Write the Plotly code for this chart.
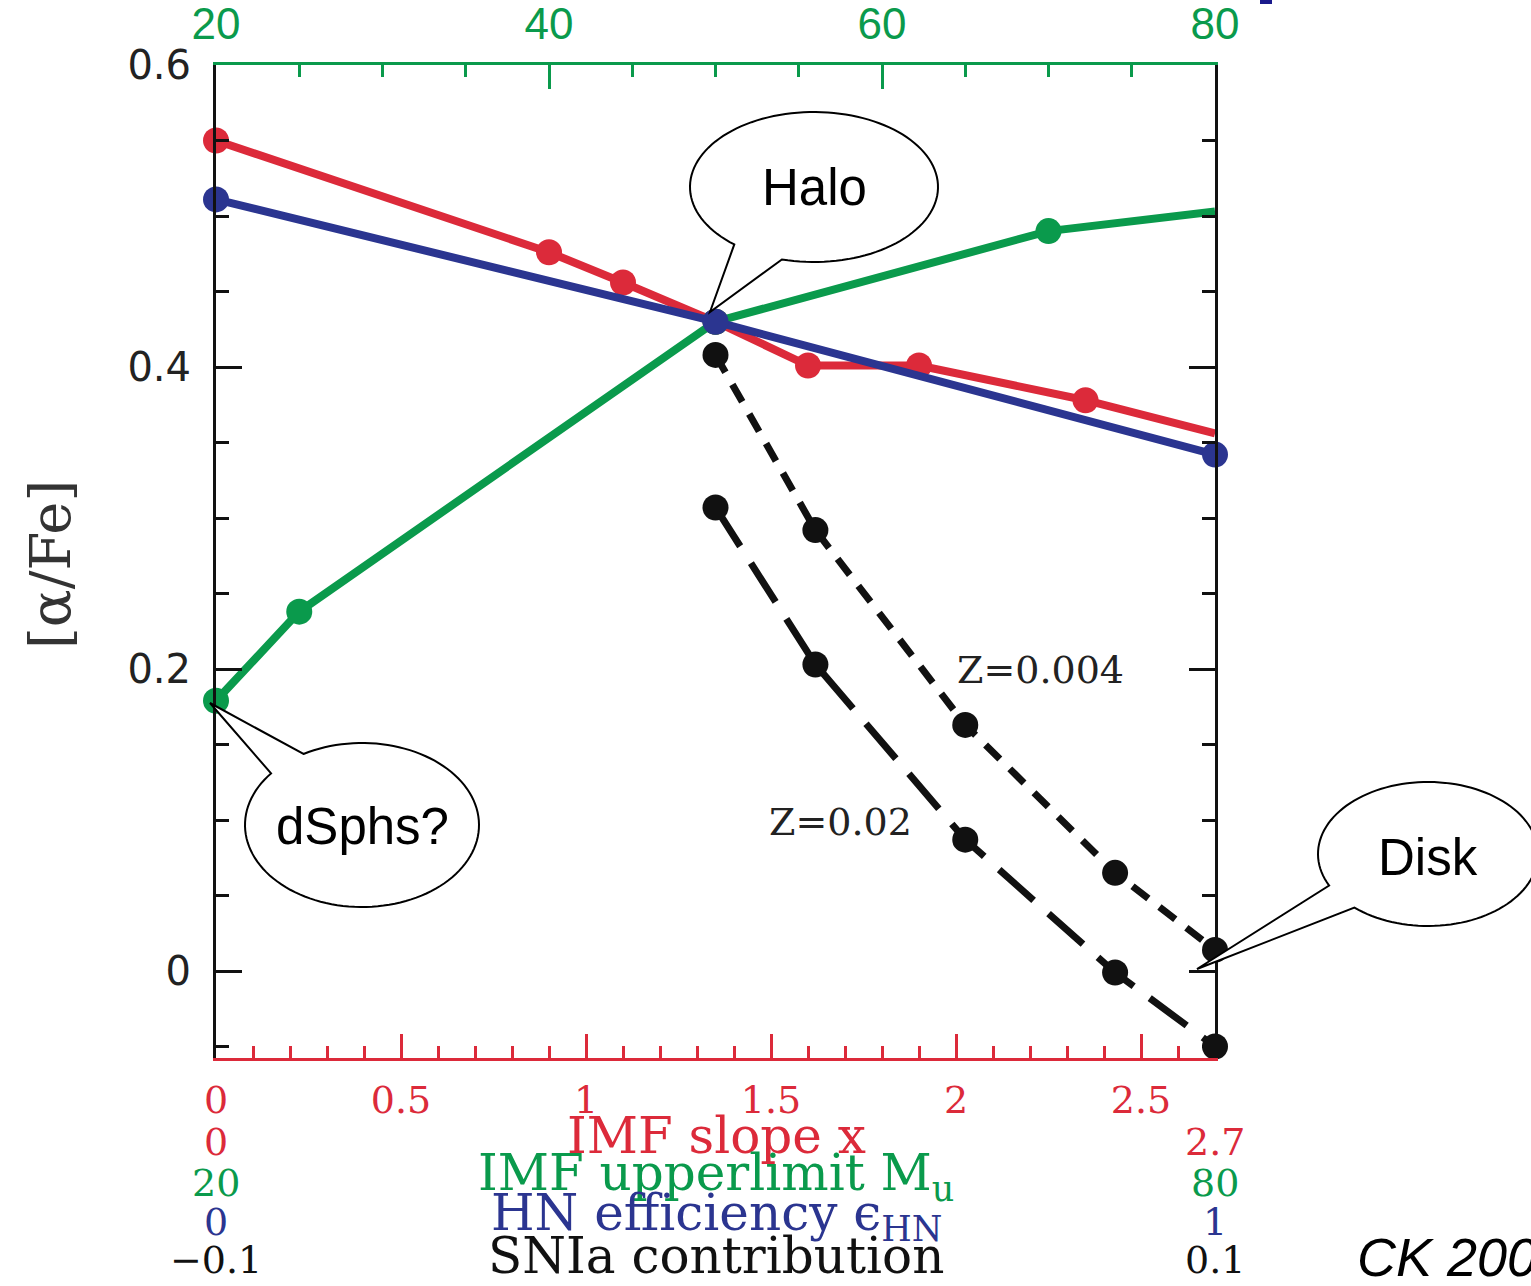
import numpy as np
import plotly.graph_objects as go

# ---- data: [alpha/Fe] response to each parameter ----
# IMF slope x (bottom axis, 0 .. 2.7)
slope_x = [0, 0.9, 1.1, 1.35, 1.6, 1.9, 2.35, 2.7]
slope_afe = [0.550, 0.476, 0.456, 0.430, 0.401, 0.401, 0.378, 0.356]
slope_msize = [26, 26, 26, 26, 26, 26, 26, 0]

# IMF upper mass limit M_u (top axis, 20 .. 80)
mu_x = [20, 25, 50, 70, 80]
mu_afe = [0.179, 0.238, 0.430, 0.490, 0.503]
mu_msize = [26, 26, 26, 26, 0]

# hypernova efficiency eps_HN (0 .. 1)
hn_x = [0, 0.5, 1]
hn_afe = [0.511, 0.430, 0.342]

# SNIa contribution (-0.1 .. 0.1) for two metallicities
snia_x = [0, 0.02, 0.05, 0.08, 0.1]
snia_afe_z004 = [0.408, 0.292, 0.163, 0.065, 0.014]
snia_afe_z02 = [0.307, 0.203, 0.087, -0.001, -0.050]

# axis ranges
slope_range = [0, 2.7]
mu_range = [20, 80]
hn_range = [0, 1]
snia_range = [-0.1, 0.1]
afe_range = [-0.0576, 0.6]

RED = "#dc2a3a"
GREEN = "#0a9a4c"
BLUE = "#2b3590"
BLACK = "#111111"

W, H = 1531, 1286
L, R, T, B = 216, 1215, 65, 1058


def px(x):
    return (x - L) / (R - L)


def py(y):
    return (B - y) / (B - T)


def bubble(cx, cy, rx, ry, gap_lo, gap_hi, tip):
    """Speech-bubble outline (ellipse + tail) in paper coordinates."""
    a = np.radians(np.linspace(gap_hi, gap_lo + 360, 120))
    xs = cx + rx * np.cos(a)
    ys = cy + ry * np.sin(a)
    pts = [(px(x), py(y)) for x, y in zip(xs, ys)]
    pts.append((px(tip[0]), py(tip[1])))
    d = "M " + " L ".join(f"{x:.5f},{y:.5f}" for x, y in pts) + " Z"
    return dict(type="path", path=d, xref="paper", yref="paper",
                fillcolor="white", line=dict(color="black", width=2),
                layer="above")


def marker(size, color):
    return dict(size=size, color=color, opacity=1, line=dict(width=0))


fig = go.Figure()

fig.add_trace(go.Scatter(
    x=snia_x, y=snia_afe_z02, xaxis="x4", yaxis="y", mode="lines+markers",
    line=dict(color=BLACK, width=7, dash="46px,20px"),
    marker=marker(26, BLACK), cliponaxis=False, showlegend=False))
fig.add_trace(go.Scatter(
    x=snia_x, y=snia_afe_z004, xaxis="x4", yaxis="y", mode="lines+markers",
    line=dict(color=BLACK, width=7, dash="20px,14px"),
    marker=marker(26, BLACK), cliponaxis=False, showlegend=False))
fig.add_trace(go.Scatter(
    x=mu_x, y=mu_afe, xaxis="x2", yaxis="y", mode="lines+markers",
    line=dict(color=GREEN, width=8),
    marker=marker(mu_msize, GREEN), cliponaxis=False, showlegend=False))
fig.add_trace(go.Scatter(
    x=slope_x, y=slope_afe, xaxis="x", yaxis="y", mode="lines+markers",
    line=dict(color=RED, width=8),
    marker=marker(slope_msize, RED), cliponaxis=False, showlegend=False))
fig.add_trace(go.Scatter(
    x=hn_x, y=hn_afe, xaxis="x3", yaxis="y", mode="lines+markers",
    line=dict(color=BLUE, width=8),
    marker=marker(26, BLUE), cliponaxis=False, showlegend=False))

serif = "DejaVu Serif"
sans = "Liberation Sans"

fig.update_layout(
    width=W, height=H,
    margin=dict(l=L, r=W - R, t=T, b=H - B, pad=0),
    paper_bgcolor="white", plot_bgcolor="white",
    xaxis=dict(
        range=slope_range, side="bottom", anchor="y", automargin=False,
        showline=True, linecolor=RED, linewidth=3, mirror=False,
        ticks="inside", ticklen=24, tickwidth=3, tickcolor=RED,
        tickvals=[0, 0.5, 1, 1.5, 2, 2.5],
        ticktext=["0", "0.5", "1", "1.5", "2", "2.5"],
        tickfont=dict(family=serif, size=38, color=RED),
        ticklabelstandoff=6,
        minor=dict(tickmode="linear", tick0=0, dtick=0.1, ticks="inside",
                   ticklen=12, tickwidth=2.5, tickcolor=RED),
        showgrid=False, zeroline=False),
    xaxis2=dict(
        range=mu_range, side="top", overlaying="x", anchor="y",
        automargin=False,
        showline=True, linecolor=GREEN, linewidth=3,
        ticks="inside", ticklen=24, tickwidth=3, tickcolor=GREEN,
        tickvals=[20, 40, 60, 80], ticktext=["20", "40", "60", "80"],
        tickfont=dict(family=sans, size=44, color=GREEN),
        ticklabelstandoff=5,
        minor=dict(tickmode="linear", tick0=20, dtick=5, ticks="inside",
                   ticklen=12, tickwidth=2.5, tickcolor=GREEN),
        showgrid=False, zeroline=False),
    xaxis3=dict(range=hn_range, overlaying="x", anchor="y", visible=False,
                automargin=False),
    xaxis4=dict(range=snia_range, overlaying="x", anchor="y", visible=False,
                automargin=False),
    yaxis=dict(
        range=afe_range, side="left", anchor="x", automargin=False,
        showline=True, linecolor=BLACK, linewidth=3,
        ticks="inside", ticklen=26, tickwidth=3, tickcolor=BLACK,
        tickvals=[0, 0.2, 0.4, 0.6], ticktext=["0", "0.2", "0.4", "0.6"],
        tickfont=dict(family="DejaVu Sans", size=40, color="#222222"),
        ticklabelstandoff=14,
        minor=dict(tickmode="linear", tick0=0, dtick=0.05, ticks="inside",
                   ticklen=13, tickwidth=2.5, tickcolor=BLACK),
        showgrid=False, zeroline=False),
    yaxis2=dict(
        range=afe_range, side="right", overlaying="y", anchor="x",
        automargin=False,
        showline=True, linecolor=BLACK, linewidth=3,
        ticks="inside", ticklen=26, tickwidth=3, tickcolor=BLACK,
        tickvals=[0, 0.2, 0.4, 0.6], showticklabels=False,
        minor=dict(tickmode="linear", tick0=0, dtick=0.05, ticks="inside",
                   ticklen=13, tickwidth=2.5, tickcolor=BLACK),
        showgrid=False, zeroline=False),
)

# dummy trace so the right-hand axis gets drawn
fig.add_trace(go.Scatter(x=[None], y=[None], xaxis="x", yaxis="y2",
                         showlegend=False, hoverinfo="skip"))

ann = []


def text(x, y, s, size, color, family=serif, xanchor="center", angle=0,
         style="normal"):
    ann.append(dict(x=px(x), y=py(y), xref="paper", yref="paper", text=s,
                    showarrow=False, xanchor=xanchor, yanchor="middle",
                    textangle=angle,
                    font=dict(family=family, size=size, color=color,
                              style=style)))


# axis title
text(50, 565, "[α/Fe]", 56, "#333333", angle=-90)

# stacked parameter scales under the plot
text(L, 1142, "0", 38, RED)
text(R, 1142, "2.7", 38, RED)
text(716, 1136, "IMF slope x", 50, RED)
text(L, 1183, "20", 38, GREEN)
text(R, 1183, "80", 38, GREEN)
text(716, 1176, "IMF upperlimit M<sub>u</sub>", 50, GREEN)
text(L, 1222, "0", 38, BLUE)
text(R, 1222, "1", 38, BLUE)
text(716, 1216, "HN efficiency ϵ<sub>HN</sub>", 50, BLUE)
text(L, 1260, "−0.1", 38, BLACK)
text(R, 1260, "0.1", 38, BLACK)
text(716, 1256, "SNIa contribution", 50, BLACK)

# metallicity labels
text(1040, 670, "Z=0.004", 38, "#222222")
text(840, 822, "Z=0.02", 38, "#222222")

# bubble captions
text(814, 188, "Halo", 51, "black", family=sans)
text(362, 826, "dSphs?", 51, "black", family=sans)
text(1428, 857, "Disk", 51, "black", family=sans)

# credit
text(1355, 1257, "CK 200", 54, "black", family=sans, xanchor="left",
     style="italic")

shapes = [
    bubble(814, 187, 124, 75, 105, 130, (710, 312)),
    bubble(362, 825, 117, 82, -141, -120, (210, 703)),
    bubble(1428, 854, 110, 72, 132, 154, (1197, 969)),
    dict(type="rect", xref="paper", yref="paper",
         x0=px(1260), x1=px(1272), y0=py(4), y1=py(0),
         fillcolor="#1a1a8c", line=dict(width=0), layer="above"),
]

fig.update_layout(annotations=ann, shapes=shapes)

fig.write_html("out.html")
